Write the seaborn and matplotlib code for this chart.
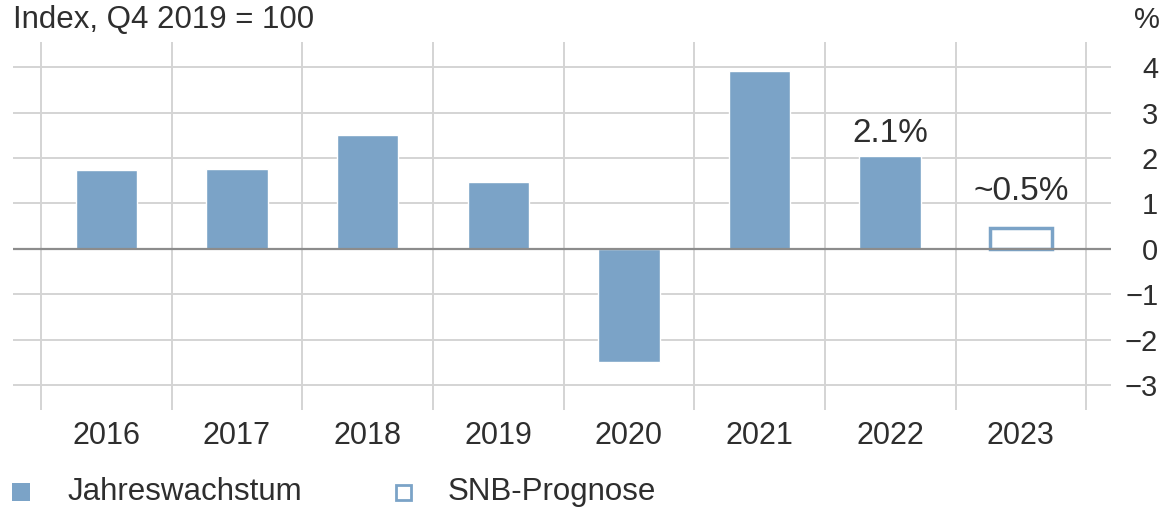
import pandas as pd
import numpy as np
import matplotlib.pyplot as plt
import seaborn as sns
from matplotlib.patches import Rectangle

# --- Data ---
years = ['2016', '2017', '2018', '2019', '2020', '2021', '2022', '2023']
growth = [1.74, 1.76, 2.5, 1.47, -2.48, 3.91, 2.05, 0.46]
kind = ['Jahreswachstum'] * 7 + ['SNB-Prognose']
y_ticks = [-3, -2, -1, 0, 1, 2, 3, 4]
# annotated bars: label text and baseline height (data units)
ann_years = ['2022', '2023']
ann_text = ['2.1%', '~0.5%']
ann_y = [2.35, 1.08]

BLUE = '#7BA3C7'
GRID = '#d4d4d4'
TXT = '#2e2e2e'

df = pd.DataFrame({'year': years, 'growth': growth, 'kind': kind})

sns.set_style('white')
plt.rcParams['font.family'] = ['Liberation Sans', 'DejaVu Sans']

fig = plt.figure(figsize=(11.66, 5.09), dpi=100)
ax = fig.add_axes([0.0111, 0.1945, 0.9417, 0.723])

sns.barplot(data=df, x='year', y='growth', hue='kind', dodge=False,
            palette={'Jahreswachstum': BLUE, 'SNB-Prognose': BLUE},
            saturation=1, width=0.47, ax=ax, legend=False, zorder=3)

# forecast bar: white fill, blue outline
for bar in ax.patches:
    if abs(bar.get_x() + bar.get_width() / 2 - 7) < 0.01 and bar.get_height() != 0:
        bar.set_facecolor('white')
        bar.set_edgecolor(BLUE)
        bar.set_linewidth(2.5)

ax.set_xlim(-0.715, 7.69)
ax.set_ylim(-3.54, 4.55)

# grid
ax.set_yticks(y_ticks)
ax.set_yticklabels([str(t).replace('-', '\u2212') for t in y_ticks])
ax.set_xticks(np.arange(-0.5, len(years), 1), minor=True)
ax.grid(axis='y', which='major', color=GRID, linewidth=1.4, zorder=0)
ax.grid(axis='x', which='minor', color=GRID, linewidth=1.4, zorder=0)
ax.axhline(0, color='#8c8c8c', linewidth=1.6, zorder=4)

ax.yaxis.tick_right()
ax.tick_params(axis='y', length=0, pad=34, labelsize=21, colors=TXT)
for lab in ax.get_yticklabels():
    lab.set_horizontalalignment('right')
ax.tick_params(axis='x', which='both', length=0, pad=8, labelsize=22, colors=TXT)
ax.set_xlabel('')
ax.set_ylabel('')
for s in ax.spines.values():
    s.set_visible(False)

# value labels
for yr, t, yy in zip(ann_years, ann_text, ann_y):
    ax.text(years.index(yr), yy, t, ha='center', va='baseline', fontsize=24, color=TXT)

fig.text(13 / 1166, 1 - 20 / 509, 'Index, Q4 2019 = 100', fontsize=22.5, color=TXT, va='center')
fig.text(1160 / 1166, 1 - 20 / 509, '%', fontsize=21, color=TXT, va='center', ha='right')

# legend
fig.patches.append(Rectangle((12 / 1166, 1 - 501 / 509), 18 / 1166, 18 / 509,
                             transform=fig.transFigure, facecolor=BLUE, edgecolor='none'))
fig.patches.append(Rectangle((396 / 1166, 1 - 500 / 509), 15 / 1166, 15 / 509,
                             transform=fig.transFigure, facecolor='white', edgecolor=BLUE, linewidth=2))
fig.text(68 / 1166, 1 - 492 / 509, 'Jahreswachstum', fontsize=22.5, color=TXT, va='center')
fig.text(448 / 1166, 1 - 492 / 509, 'SNB-Prognose', fontsize=22.5, color=TXT, va='center')

fig.savefig('out.png', dpi=100)
